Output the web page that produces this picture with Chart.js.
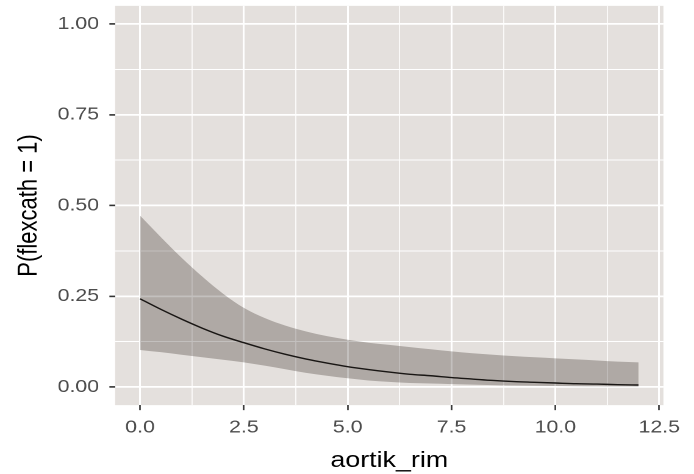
<!DOCTYPE html>
<html><head><meta charset="utf-8">
<script src="https://cdn.jsdelivr.net/npm/chart.js@4/dist/chart.umd.min.js"></script>
<style>
html,body{margin:0;padding:0;background:#fff;overflow:hidden;width:694px;height:474px;}
#wrap{width:569px;height:474px;transform:scaleX(1.2197);transform-origin:0 0;}
canvas{display:block;}
</style></head><body>
<div id="wrap"><canvas id="c" width="569" height="474"></canvas></div>
<script>
// ---- data ----
const xValues = [0,0.5,1,1.5,2,2.5,3,3.5,4,4.5,5,5.5,6,6.5,7,7.5,8,8.5,9,9.5,10,10.5,11,11.5,12];
const fitValues = [0.243,0.214,0.187,0.162,0.140,0.122,0.105,0.090,0.077,0.066,0.056,0.048,0.041,0.035,0.031,0.026,0.022,0.018,0.015,0.013,0.011,0.009,0.008,0.0065,0.0055];
const upperValues = [0.472,0.413,0.356,0.304,0.257,0.218,0.190,0.169,0.153,0.140,0.130,0.122,0.116,0.110,0.104,0.098,0.093,0.089,0.085,0.082,0.079,0.076,0.073,0.070,0.068];
const lowerValues = [0.102,0.096,0.089,0.082,0.075,0.068,0.059,0.049,0.039,0.031,0.024,0.018,0.014,0.011,0.0095,0.008,0.0065,0.0052,0.0042,0.0034,0.0028,0.0022,0.0018,0.0014,0.0011];
const xTickValues = [0,2.5,5,7.5,10,12.5];
const xTickLabels = ['0.0','2.5','5.0','7.5','10.0','12.5'];
const yTickValues = [0,0.25,0.5,0.75,1];
const yTickLabels = ['0.00','0.25','0.50','0.75','1.00'];
const xTitle = 'aortik_rim';
const yTitle = 'P(flexcath = 1)';

// ---- helpers ----
function withMinors(majors){
  const out = [];
  for (let i=0;i<majors.length;i++){
    out.push(majors[i]);
    if (i<majors.length-1) out.push((majors[i]+majors[i+1])/2);
  }
  return out;
}
const xAll = withMinors(xTickValues);
const yAll = withMinors(yTickValues);
const isMajor = (arr, v) => arr.some(t => Math.abs(t - v) < 1e-9);
const labelFor = (vals, labels, v) => { const i = vals.findIndex(t => Math.abs(t - v) < 1e-9); return i >= 0 ? labels[i] : ''; };

const panelBg = {
  id:'panelBg',
  beforeDraw(chart){
    const {ctx, chartArea:{left,top,right,bottom}} = chart;
    ctx.save(); ctx.fillStyle = '#E4E0DD';
    ctx.fillRect(left, top, right-left, bottom-top); ctx.restore();
  }
};

const pts = arr => xValues.map((x,i)=>({x, y: arr[i]}));
const FONT = "'Liberation Sans', Arial, sans-serif";
const zeroPad = s => { s.paddingTop = 0; s.paddingBottom = 0; s.paddingLeft = 0; s.paddingRight = 0; };

new Chart(document.getElementById('c'), {
  type:'line',
  data:{
    datasets:[
      {label:'lower', data:pts(lowerValues), borderColor:'rgba(0,0,0,0)', borderWidth:0, pointRadius:0, fill:false, cubicInterpolationMode:'monotone'},
      {label:'upper', data:pts(upperValues), borderColor:'rgba(0,0,0,0)', borderWidth:0, pointRadius:0, fill:'-1', backgroundColor:'rgba(25,10,5,0.26)', cubicInterpolationMode:'monotone'},
      {label:'fit', data:pts(fitValues), borderColor:'#1a1a1a', borderWidth:1.4, pointRadius:0, fill:false, cubicInterpolationMode:'monotone'}
    ]
  },
  options:{
    responsive:false, animation:false, devicePixelRatio:2,
    layout:{padding:{top:5.85, right:25.1, bottom:0, left:0}},
    plugins:{legend:{display:false}, tooltip:{enabled:false}},
    scales:{
      x:{
        type:'linear', min:-0.6, max:12.6,
        afterBuildTicks: s => { s.ticks = xAll.map(v => ({value:v})); },
        afterFit: s => { s.height = 474 - 405.15; zeroPad(s); },
        border:{display:false},
        grid:{
          color:'#FFFFFF',
          lineWidth: c => isMajor(xTickValues, c.tick.value) ? 1.5 : 0.8,
          tickColor: c => isMajor(xTickValues, c.tick.value) ? '#333333' : 'rgba(0,0,0,0)',
          tickLength:5, tickWidth:1.3
        },
        ticks:{
          autoSkip:false, maxRotation:0, padding:7, color:'#4D4D4D',
          font:{family:FONT, size:17.5},
          callback: v => labelFor(xTickValues, xTickLabels, v)
        },
        title:{display:true, text:xTitle, color:'#000', font:{family:FONT, size:22, lineHeight:1.2}, padding:{top:0,bottom:0}}
      },
      y:{
        type:'linear', min:-0.05, max:1.05,
        afterBuildTicks: s => { s.ticks = yAll.map(v => ({value:v})); },
        afterFit: s => { s.width = 94.37; zeroPad(s); },
        border:{display:false},
        grid:{
          color:'#FFFFFF',
          lineWidth: c => isMajor(yTickValues, c.tick.value) ? 1.8 : 0.9,
          tickColor: c => isMajor(yTickValues, c.tick.value) ? '#333333' : 'rgba(0,0,0,0)',
          tickLength:4.7, tickWidth:1.6
        },
        ticks:{
          autoSkip:false, padding:8.4, color:'#4D4D4D',
          font:{family:FONT, size:17.5},
          callback: v => labelFor(yTickValues, yTickLabels, v)
        },
        title:{display:true, text:yTitle, color:'#000', font:{family:FONT, size:22, lineHeight:1.2}, padding:{top:10.6,bottom:0}}
      }
    }
  },
  plugins:[panelBg]
});
</script>
</body></html>
